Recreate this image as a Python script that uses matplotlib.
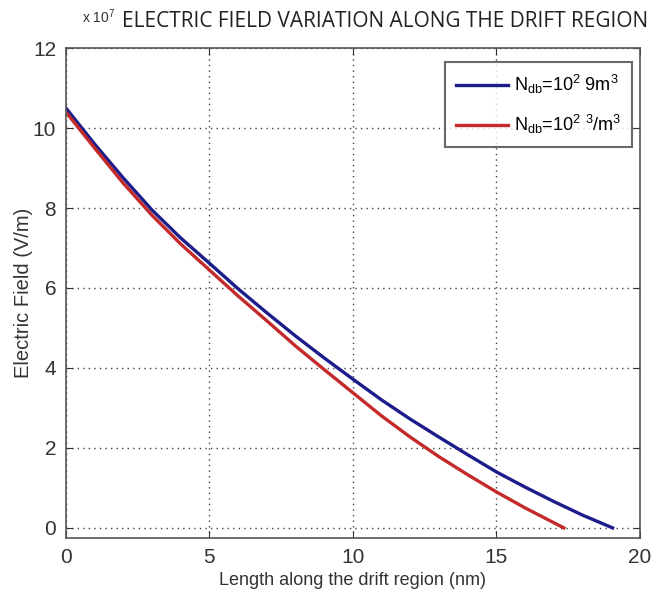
import matplotlib
matplotlib.use('Agg')
from matplotlib import pyplot as plt

# data, field in units of 1e7 V/m
x_blue = [0, 1, 2, 3, 4, 5, 6, 7, 8, 9, 10, 11, 12, 13, 14, 15, 16, 17, 18, 19.05]
e_blue = [10.5, 9.6, 8.75, 7.95, 7.25, 6.62, 5.98, 5.38, 4.8, 4.25, 3.72, 3.2,
          2.72, 2.27, 1.83, 1.4, 1.02, 0.66, 0.32, 0.0]
x_red = [0, 1, 2, 3, 4, 5, 6, 7, 8, 9, 10, 11, 12, 13, 14, 15, 16, 17, 17.35]
e_red = [10.4, 9.5, 8.62, 7.82, 7.1, 6.45, 5.8, 5.18, 4.55, 3.96, 3.38, 2.8,
         2.27, 1.78, 1.33, 0.9, 0.5, 0.13, 0.0]
labels = ['N$_{\\mathrm{db}}$=10$^{2}$ 9m$^{3}$',
          'N$_{\\mathrm{db}}$=10$^{2}$ $^{3}$/m$^{3}$']
xticks = [0, 5, 10, 15, 20]
yticks = [0, 2, 4, 6, 8, 10, 12]

plt.rcParams['font.family'] = ['Liberation Sans', 'DejaVu Sans']
plt.rcParams['mathtext.fontset'] = 'custom'
plt.rcParams['mathtext.rm'] = 'Liberation Sans'

fig = plt.figure(figsize=(6.59, 6.01), dpi=100)
ax = fig.add_axes([0.1, 0.105, 0.871, 0.815])

ax.plot(x_blue, e_blue, color='#1c1c8a', lw=2.4, label=labels[0])
ax.plot(x_red, e_red, color='#c42a2a', lw=2.4, label=labels[1])

ax.set_xlim(0, 20)
ax.set_ylim(-0.25, 12)
ax.set_xticks(xticks)
ax.set_yticks(yticks)
ax.grid(True, linestyle=(0, (1, 3)), color='#444444', lw=1.0)
ax.tick_params(direction='in', top=True, right=True, length=5,
               labelsize=15, colors='#333333', pad=7)
for s in ax.spines.values():
    s.set_color('#555555')
    s.set_linewidth(1.2)

ax.set_xlabel('Length along the drift region (nm)', fontsize=13, color='#333333')
ax.set_ylabel('Electric Field (V/m)', fontsize=14.5, color='#333333')
ax.yaxis.set_label_coords(-0.058, 0.5)

fig.text(0.125, 0.962, 'x 10$^{7}$', fontsize=10, color='#333333')
fig.text(0.584, 0.955, 'ELECTRIC FIELD VARIATION ALONG THE DRIFT REGION',
         ha='center', fontsize=15, family='Open Sans', color='#222222')

leg = ax.legend(loc='upper right', fontsize=13, fancybox=False,
                edgecolor='#444444', handlelength=2.9, borderpad=0.6,
                labelspacing=0.95, handletextpad=0.3, borderaxespad=0,
                bbox_to_anchor=(0.986, 0.971))
leg.get_frame().set_linewidth(1.5)

fig.savefig('out.png', dpi=100)
